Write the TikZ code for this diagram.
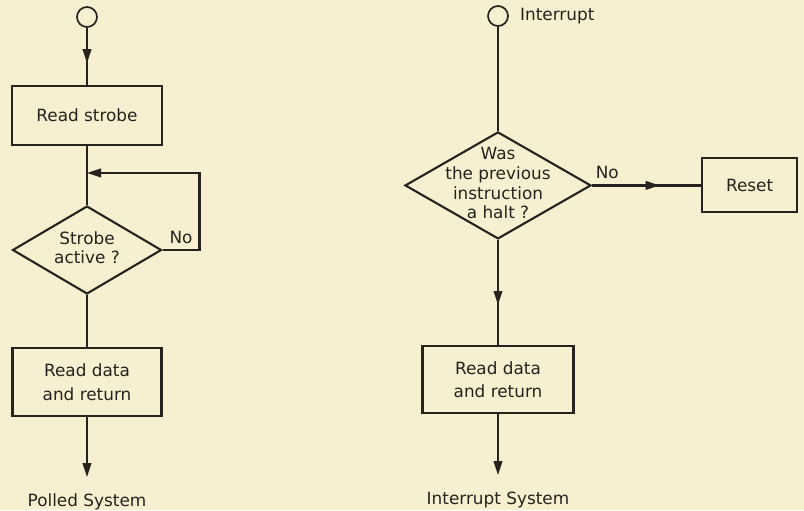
\documentclass[tikz,border=0pt]{standalone}
\usepackage{fontspec}
\setmainfont{DejaVu Sans}
\usepackage{tikz}
\usetikzlibrary{shapes.geometric, arrows.meta, positioning, decorations.markings}
\definecolor{ink}{RGB}{38,34,30}
\definecolor{paper}{RGB}{246,239,208}
\newcommand{\dtext}[1]{\makebox[0pt]{\smash{\raisebox{-3pt}{\begin{tabular}{@{}c@{}}#1\end{tabular}}}}}

\begin{document}
\begin{tikzpicture}[
    node distance=1.4cm,
    block/.style={rectangle, draw=ink, line width=1.5pt, fill=paper,
        align=center, text=ink, font=\fontsize{12}{16.5}\selectfont},
    dec/.style={diamond, draw=ink, line width=1.5pt, fill=paper,
        inner sep=0pt, text=ink, font=\fontsize{12}{14}\selectfont},
    term/.style={circle, draw=ink, line width=1.2pt, fill=paper,
        minimum size=0.5cm, inner sep=0pt},
    lbl/.style={font=\fontsize{12}{14}\selectfont, text=ink, inner sep=0pt},
    flow/.style={draw, color=ink, line width=1.6pt},
    arr/.style={flow, -{Triangle[length=10pt, width=6pt]}},
    midarr/.style={flow, postaction={decorate}, decoration={markings,
        mark=at position 0.62 with {\arrow{Triangle[length=10pt, width=6pt]}}}}
]
\fill[paper] (0,0) rectangle (20.1,-12.75);

% polled system
\node[term] (start1) at (2.175,-0.425) {};
\node[block, minimum width=3.75cm, minimum height=1.475cm, below=1.425cm of start1] (rdstrobe) {Read strobe};
\node[dec, minimum width=3.725cm, minimum height=2.2cm, below=1.475cm of rdstrobe] (active) {\dtext{Strobe\\active ?}};
\node[block, minimum width=3.725cm, minimum height=1.7cm, below=1.3cm of active] (rddata1) {Read data\\and return};
\node[lbl, below=1.9cm of rddata1] (polled) {Polled System};
\coordinate[above=0.8cm of active] (join1);

\draw[midarr] (start1) -- (rdstrobe);
\draw[flow] (rdstrobe) -- (active);
\draw[arr] (active.east) -- node[lbl, above=4pt] (no1) {No} ++(0.925,0) |- (join1);
\draw[flow] (active) -- (rddata1);
\draw[arr, shorten >=0.4cm] (rddata1) -- (polled);

% interrupt system
\node[term] (start2) at (12.45,-0.4) {};
\node[lbl, right=0.275cm of start2] (intr) {Interrupt};
\node[dec, minimum width=4.65cm, minimum height=2.675cm, below=2.6cm of start2] (halt) {\dtext{Was\\the previous\\instruction\\a halt ?}};
\node[block, minimum width=2.375cm, minimum height=1.35cm, right=2.725cm of halt] (reset) {Reset};
\node[block, minimum width=3.775cm, minimum height=1.675cm, below=2.625cm of halt] (rddata2) {Read data\\and return};
\node[lbl, below=1.95cm of rddata2] (intsys) {Interrupt System};

\draw[flow] (start2) -- (halt);
\draw[midarr] (halt) -- node[lbl, pos=0.14, above=4pt] (no2) {No} (reset);
\draw[midarr] (halt) -- (rddata2);
\draw[arr, shorten >=0.42cm] (rddata2) -- (intsys);
\end{tikzpicture}
\end{document}
